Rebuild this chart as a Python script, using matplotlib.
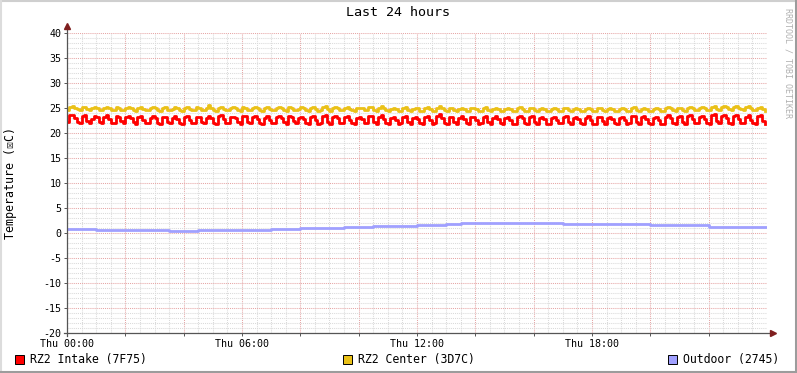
import numpy as np
import matplotlib
matplotlib.use("Agg")
import matplotlib.pyplot as plt
from matplotlib.lines import Line2D
from matplotlib.patches import Rectangle

# ---------------- data (5-minute samples, Thu 00:00 .. 23:55) ----------------
intake = [
    22.2, 23.6, 23.7, 23.0, 22.2,
    22.0, 23.5, 23.6, 22.5,
    22.1, 22.9, 23.5, 23.2, 22.3,
    22.0, 23.3, 23.6, 22.8, 22.1,
    22.0, 23.4, 23.3, 22.4,
    22.1, 23.2, 23.5, 23.0, 22.2,
    21.9, 23.3, 23.4, 22.7, 22.0,
    22.0, 23.1, 23.4, 23.1, 22.1,
    21.9, 23.2, 23.3, 22.3,
    22.0, 23.0, 23.4, 22.9, 22.0,
    21.9, 23.2, 23.5, 22.6, 22.0,
    22.1, 23.3, 23.2, 22.2,
    22.0, 23.1, 23.5, 23.0, 22.1,
    21.9, 23.4, 23.6, 22.8, 22.0,
    22.0, 23.2, 23.3, 23.0, 22.2,
    21.9, 23.5, 23.4, 22.3,
    22.0, 23.2, 23.5, 22.9, 22.1,
    21.9, 23.1, 23.4, 22.6, 22.0,
    22.0, 23.3, 23.5, 23.1, 22.2,
    21.9, 23.4, 23.3, 22.4,
    22.0, 23.0, 23.3, 22.8, 22.0,
    21.8, 23.2, 23.4, 22.6, 21.9,
    22.0, 23.5, 23.7, 22.3,
    21.9, 23.2, 23.4, 23.0, 22.1,
    22.0, 23.3, 23.4, 22.7, 22.0,
    21.9, 23.1, 23.3, 22.9, 22.1,
    22.0, 23.4, 23.5, 22.3,
    21.9, 23.2, 23.6, 22.8, 22.0,
    21.8, 23.0, 23.3, 22.6, 21.9,
    22.0, 23.3, 23.4, 22.2,
    21.9, 23.1, 23.3, 22.9, 22.0,
    21.8, 23.2, 23.5, 22.7, 21.9,
    22.0, 23.4, 23.8, 23.0, 22.1,
    21.9, 23.2, 23.3, 22.3,
    21.9, 23.0, 23.4, 22.8, 22.0,
    21.8, 23.2, 23.3, 22.6, 21.9,
    22.0, 23.3, 23.5, 22.2,
    21.9, 23.1, 23.4, 22.9, 22.0,
    21.8, 23.0, 23.2, 22.7, 21.9,
    21.9, 23.3, 23.5, 23.0, 22.1,
    21.9, 23.2, 23.4, 22.3,
    21.8, 23.0, 23.3, 22.8, 21.9,
    21.9, 23.1, 23.2, 22.6, 22.0,
    22.0, 23.3, 23.4, 22.2,
    21.9, 23.0, 23.3, 22.9, 22.0,
    21.8, 23.1, 23.4, 22.7, 21.9,
    21.9, 23.2, 23.3, 22.4,
    21.9, 23.0, 23.2, 22.8, 22.0,
    21.8, 23.1, 23.3, 22.6, 21.9,
    22.0, 23.4, 23.5, 22.3,
    21.9, 23.2, 23.4, 22.9, 22.0,
    21.8, 23.0, 23.3, 22.7, 21.9,
    21.9, 23.3, 23.6, 23.0, 22.1,
    21.9, 23.2, 23.4, 22.3,
    21.9, 23.5, 23.7, 22.9, 22.0,
    22.0, 23.3, 23.5, 22.8, 22.1,
    21.9, 23.6, 23.8, 22.4,
    22.0, 23.4, 23.6, 23.1, 22.1,
    21.9, 23.5, 23.7, 22.9, 22.0,
    22.0, 23.3, 23.6, 22.6, 22.0,
    21.9, 23.4, 23.6, 22.5, 21.9,
]

center = [
    24.7, 25.3, 25.4, 25.1, 24.8,
    24.7, 25.2, 25.3, 24.8,
    24.6, 25.0, 25.3, 25.1, 24.7,
    24.6, 25.1, 25.3, 25.0, 24.7,
    24.6, 25.2, 25.1, 24.7,
    24.6, 25.0, 25.3, 25.1, 24.7,
    24.5, 25.1, 25.2, 24.9, 24.6,
    24.6, 25.0, 25.2, 25.1, 24.6,
    24.5, 25.1, 25.2, 24.7,
    24.6, 24.9, 25.2, 25.0, 24.6,
    24.5, 25.1, 25.3, 24.9, 24.6,
    24.6, 25.2, 25.1, 24.7,
    24.6, 25.0, 25.6, 25.1, 24.6,
    24.5, 25.1, 25.3, 24.9, 24.6,
    24.6, 25.0, 25.2, 25.0, 24.7,
    24.5, 25.2, 25.1, 24.7,
    24.6, 25.0, 25.3, 25.0, 24.6,
    24.5, 25.0, 25.2, 24.9, 24.6,
    24.6, 25.1, 25.3, 25.1, 24.7,
    24.5, 25.2, 25.1, 24.7,
    24.6, 24.9, 25.2, 25.0, 24.6,
    24.5, 25.1, 25.2, 24.9, 24.5,
    24.6, 25.3, 25.5, 24.8,
    24.5, 25.0, 25.2, 25.0, 24.6,
    24.6, 25.1, 25.2, 24.9, 24.6,
    24.5, 25.0, 25.1, 25.0, 24.6,
    24.6, 25.2, 25.3, 24.7,
    24.5, 25.0, 25.5, 25.0, 24.6,
    24.4, 24.9, 25.1, 24.9, 24.5,
    24.5, 25.1, 25.2, 24.6,
    24.5, 24.9, 25.1, 25.0, 24.5,
    24.4, 25.0, 25.2, 24.9, 24.5,
    24.5, 25.1, 25.4, 25.0, 24.6,
    24.5, 25.0, 25.1, 24.6,
    24.4, 24.9, 25.1, 24.9, 24.5,
    24.4, 25.0, 25.1, 24.8, 24.5,
    24.5, 25.1, 25.2, 24.6,
    24.4, 24.9, 25.1, 24.9, 24.5,
    24.4, 24.9, 25.0, 24.8, 24.4,
    24.5, 25.0, 25.2, 24.9, 24.5,
    24.4, 25.0, 25.1, 24.6,
    24.4, 24.8, 25.0, 24.9, 24.4,
    24.4, 24.9, 25.0, 24.8, 24.5,
    24.5, 25.0, 25.1, 24.6,
    24.4, 24.8, 25.0, 24.9, 24.4,
    24.4, 24.9, 25.1, 24.8, 24.5,
    24.4, 25.0, 25.0, 24.6,
    24.4, 24.8, 25.0, 24.9, 24.4,
    24.4, 24.9, 25.0, 24.8, 24.5,
    24.5, 25.1, 25.2, 24.6,
    24.4, 24.9, 25.1, 24.9, 24.5,
    24.4, 24.8, 25.0, 24.8, 24.4,
    24.5, 25.0, 25.2, 25.0, 24.6,
    24.5, 25.0, 25.1, 24.6,
    24.5, 25.1, 25.3, 25.0, 24.6,
    24.6, 25.1, 25.2, 25.0, 24.7,
    24.6, 25.3, 25.4, 24.8,
    24.7, 25.2, 25.4, 25.2, 24.8,
    24.7, 25.3, 25.5, 25.1, 24.8,
    24.7, 25.2, 25.4, 25.0, 24.7,
    24.6, 25.1, 25.2, 24.8, 24.4,
]

# half-hourly outdoor temperature, 00:00 .. 24:00
outdoor = [0.8, 0.8, 0.7, 0.7, 0.7, 0.7, 0.6, 0.5, 0.5, 0.6, 0.6, 0.6,
           0.6, 0.7, 0.8, 0.9, 1.0, 1.0, 1.1, 1.3, 1.3, 1.4, 1.5, 1.5,
           1.6, 1.7, 1.8, 2.0, 2.1, 2.1, 2.1, 2.1, 2.0, 2.0, 1.9, 1.9,
           1.8, 1.8, 1.8, 1.8, 1.7, 1.7, 1.6, 1.6, 1.3, 1.2, 1.2, 1.2, 1.2]

series_names = ["RZ2 Intake (7F75)", "RZ2 Center (3D7C)", "Outdoor (2745)"]
series_colors = ["#FF0000", "#EAC117", "#A0A0FF"]
x_tick_hours = [0, 6, 12, 18]
x_tick_labels = ["Thu 00:00", "Thu 06:00", "Thu 12:00", "Thu 18:00"]
y_ticks = list(range(-20, 41, 5))

t5 = np.arange(len(intake)) * 5 / 60.0
t30 = np.arange(len(outdoor)) * 0.5

# ---------------- figure ----------------
W, H = 797, 373
fig = plt.figure(figsize=(W / 100, H / 100), dpi=100, facecolor="white")
mono = ["DejaVu Sans Mono", "DejaVu Sans"]

def fx(px):
    return px / W

def fy(py):
    return 1 - py / H

L, R, T, B = 67, 767, 33, 333
ax = fig.add_axes([fx(L), fy(B), (R - L) / W, (B - T) / H])
ax.set_facecolor("white")
ax.set_xlim(0, 24)
ax.set_ylim(-20, 40)
for s in ax.spines.values():
    s.set_visible(False)

# ticks / grid
major_x = np.arange(0, 24, 2)
ax.set_xticks(major_x)
ax.set_xticklabels([x_tick_labels[x_tick_hours.index(h)] if h in x_tick_hours else "" for h in major_x])
ax.set_xticks(np.arange(0, 24, 0.5), minor=True)
ax.set_yticks(y_ticks)
ax.set_yticklabels([str(v) for v in y_ticks])
ax.set_yticks(np.arange(-20, 41, 1), minor=True)
ax.grid(which="minor", color="#DADADA", linestyle=(0, (1, 1)), linewidth=0.75)
ax.grid(which="major", color="#E6A6A6", linestyle=(0, (1, 1)), linewidth=0.75)
ax.set_axisbelow(True)
ax.tick_params(which="both", length=2, width=0.7, color="#555555", pad=2,
               labelsize=7.2)
ax.tick_params(which="minor", length=0)
for lab in ax.get_xticklabels() + ax.get_yticklabels():
    lab.set_fontfamily(mono)

# data
ax.plot(t5, center, color=series_colors[1], lw=2.0, drawstyle="steps-post", zorder=3)
ax.plot(t5, intake, color=series_colors[0], lw=2.0, drawstyle="steps-post", zorder=4)
ax.plot(t30, outdoor, color=series_colors[2], lw=2.0, drawstyle="steps-post", zorder=3)

# axes with arrows
ax.plot([0, 0], [-20.6, 41.0], color="#555555", lw=0.9, clip_on=False, zorder=5)
ax.plot([-0.1, 24.1], [-20, -20], color="#555555", lw=0.9, clip_on=False, zorder=5)
ax.plot([0], [41.4], marker="^", color="#7F1F1F", markersize=4, clip_on=False, zorder=6)
ax.plot([24.2], [-20], marker=">", color="#7F1F1F", markersize=4, clip_on=False, zorder=6)

# texts
fig.text(fx(398), fy(13), "Last 24 hours", ha="center", va="center",
         fontsize=9.6, family=mono)
fig.text(fx(11), fy(183), "Temperature (\u2612C)", ha="center", va="center",
         rotation=90, fontsize=8.4, family=mono)
fig.text(fx(788), fy(8), "RRDTOOL / TOBI OETIKER", ha="center", va="top",
         rotation=270, fontsize=6.0, family=mono, color="#B0B0B0")

# legend
legend_x = [15, 343, 668]
for lx, name, col in zip(legend_x, series_names, series_colors):
    fig.add_artist(Rectangle((fx(lx), fy(364)), 9 / W, 9 / H, transform=fig.transFigure,
                             facecolor=col, edgecolor="black", linewidth=0.7))
    fig.text(fx(lx + 15), fy(359), name, ha="left", va="center", fontsize=8.3, family=mono)

# 3D frame
fig.add_artist(Line2D([0, 1], [fy(1), fy(1)], transform=fig.transFigure, color="#CFCFCF", lw=1.5))
fig.add_artist(Line2D([fx(1), fx(1)], [0, 1], transform=fig.transFigure, color="#DCDCDC", lw=1.5))
fig.add_artist(Line2D([fx(W - 1.5), fx(W - 1.5)], [0, 1], transform=fig.transFigure, color="#9C9C9C", lw=2.2))
fig.add_artist(Line2D([0, 1], [fy(H - 1), fy(H - 1)], transform=fig.transFigure, color="#9C9C9C", lw=1.5))

fig.savefig("out.png", dpi=100, facecolor="white")
